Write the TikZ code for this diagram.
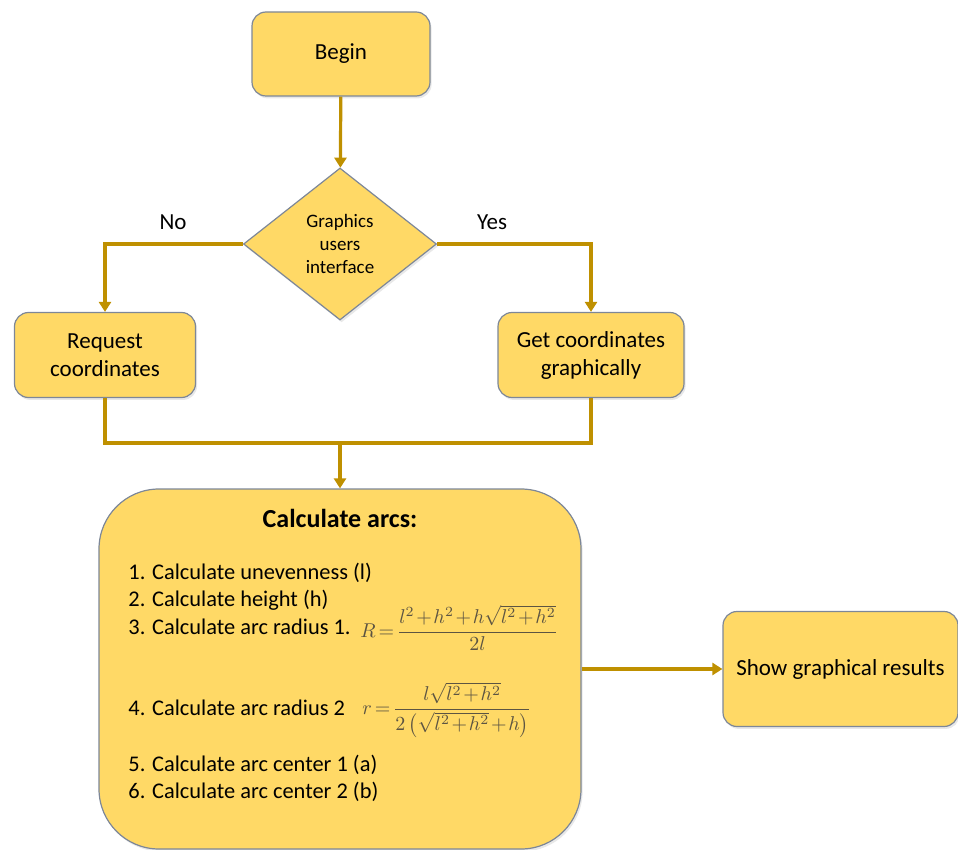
\documentclass[tikz,border=0pt]{standalone}
\usepackage[no-math]{fontspec}
\setmainfont{Carlito}
\usepackage{amsmath}
\usetikzlibrary{shapes.geometric, arrows.meta, shadows}
\definecolor{boxfill}{HTML}{FFD966}
\definecolor{boxline}{HTML}{7D8798}
\definecolor{flowline}{HTML}{BF9000}
\definecolor{mathgray}{HTML}{5C5442}
\newcommand{\tightmath}{\medmuskip=1.5mu\relax\thickmuskip=2.5mu\relax}

\begin{document}
\begin{tikzpicture}[x=0.5pt, y=-0.5pt,
    boxshadow/.style={drop shadow={opacity=0.18, shadow xshift=0.8pt, shadow yshift=-1.2pt}},
    flowbox/.style={draw=boxline, line width=0.6pt, fill=boxfill, rounded corners=7pt,
        align=center, inner sep=2pt, font=\fontsize{11.5}{14}\selectfont, boxshadow},
    decision/.style={diamond, draw=boxline, line width=0.6pt, fill=boxfill, align=center,
        inner sep=0pt, minimum width=96.5pt, minimum height=76pt,
        font=\fontsize{9.5}{11.5}\selectfont, boxshadow},
    calcbox/.style={draw=boxline, line width=0.6pt, fill=boxfill, rounded corners=30pt,
        minimum width=241pt, minimum height=180pt, boxshadow},
    steptext/.style={anchor=west, inner sep=0pt, font=\fontsize{11.2}{14}\selectfont},
    formula/.style={anchor=west, inner sep=0pt, text=mathgray,
        font=\fontsize{10}{12}\selectfont\tightmath},
    flow/.style={draw=flowline, line width=1.6pt},
    flowarrow/.style={flow, -{Triangle[width=6pt,length=5pt]}}]
    \useasboundingbox (0,0) rectangle (958,850);
    \node[flowbox, minimum width=89pt, minimum height=42pt] (begin) at (341,54) {Begin};
    \node[decision] (gui) at (340,244) {Graphics\\users\\interface};
    \node[flowbox, minimum width=90.5pt, minimum height=42.5pt] (request) at (105,355) {Request\\coordinates};
    \node[flowbox, minimum width=93pt, minimum height=42.5pt] (getc) at (591,355) {Get coordinates\\graphically};
    \node[calcbox] (calc) at (340,669) {};
    \node[flowbox, minimum width=117.5pt, minimum height=57.5pt] (show) at (840.5,669) {Show graphical results};
    \coordinate (join) at (340,443);
    \draw[flowarrow] (begin) -- (gui);
    \draw[flowarrow] (gui.west) -| (request.north);
    \draw[flowarrow] (gui.east) -| (getc.north);
    \draw[flow] (request.south) |- (join);
    \draw[flow] (getc.south) |- (join);
    \draw[flowarrow] (join) -- (calc.north);
    \draw[flowarrow] (calc.east) -- (show.west);
    \node[font=\fontsize{11.5}{14}\selectfont] (nolabel) at (173,222) {No};
    \node[font=\fontsize{11.5}{14}\selectfont] (yeslabel) at (492,222) {Yes};
    \node[font=\bfseries\fontsize{13}{15}\selectfont] (calctitle) at (340,518) {Calculate arcs:};
    \node[steptext] (step1) at (128,573) {1. Calculate unevenness (l)};
    \node[steptext] (step2) at (128,600) {2. Calculate height (h)};
    \node[steptext] (step3) at (128,627) {3. Calculate arc radius 1.};
    \node[formula] (bigR) at (360,628) {$R=\dfrac{l^2+h^2+h\sqrt{l^2+h^2}}{2l}$};
    \node[steptext] (step4) at (128,708) {4. Calculate arc radius 2};
    \node[formula] (smallr) at (362,710) {$r=\dfrac{l\sqrt{l^2+h^2}}{2\left(\sqrt{l^2+h^2}+h\right)}$};
    \node[steptext] (step5) at (128,765) {5. Calculate arc center 1 (a)};
    \node[steptext] (step6) at (128,792) {6. Calculate arc center 2 (b)};
\end{tikzpicture}
\end{document}
